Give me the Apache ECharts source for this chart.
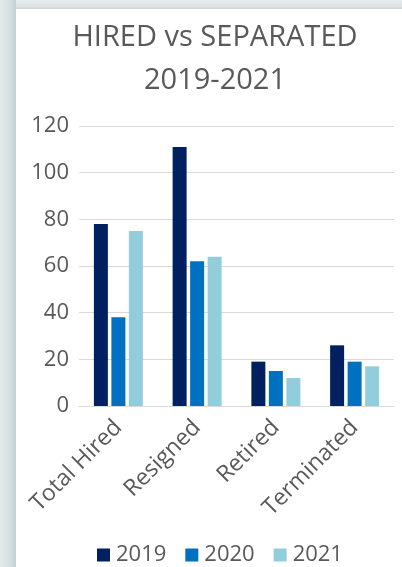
<!DOCTYPE html>
<html><head><meta charset="utf-8">
<script src="https://cdn.jsdelivr.net/npm/echarts@6/dist/echarts.min.js"></script>
<style>
html,body{margin:0;padding:0;width:402px;height:567px;overflow:hidden;}
#bg{position:absolute;left:0;top:0;width:402px;height:567px;background:linear-gradient(to right,#e3eaec 0px,#d6dfe3 10px,#c6d2d8 15px,#c6d2d8 16px);}
#topbar{position:absolute;left:16px;top:0;width:386px;height:9px;background:linear-gradient(to bottom,#e6ecee 0px,#dfe5e7 6px,#c9d2d6 9px);}
#card{position:absolute;left:16px;top:9px;width:386px;height:558px;background:#ffffff;}
#chart{position:absolute;left:0;top:0;width:402px;height:567px;}
</style></head>
<body>
<div id="bg"></div><div id="topbar"></div><div id="card"></div>
<div id="chart"></div>
<script>
const categories = ['Total Hired', 'Resigned', 'Retired', 'Terminated'];
const seriesNames = ['2019', '2020', '2021'];
const values2019 = [78, 111, 19, 26];
const values2020 = [38, 62, 15, 19];
const values2021 = [75, 64, 12, 17];
const yTicks = [0, 20, 40, 60, 80, 100, 120];
const colors = ['#002060', '#0070c0', '#92cddc'];
const font = '"Open Sans", sans-serif';
const txt = '#595959';

const chart = echarts.init(document.getElementById('chart'), null, {renderer: 'canvas'});
const seriesData = [values2019, values2020, values2021];
chart.setOption({
  animation: false,
  backgroundColor: 'transparent',
  color: colors,
  title: {
    text: 'HIRED vs SEPARATED\n2019-2021',
    left: 210, top: 11, textAlign: 'center',
    textStyle: {fontFamily: font, fontSize: 29, fontWeight: 'normal', color: txt, lineHeight: 43}
  },
  legend: {
    left: 92, top: 539,
    itemWidth: 13, itemHeight: 13, itemGap: 19,
    icon: 'rect',
    textStyle: {fontFamily: font, fontSize: 22, color: txt, padding: [0, 0, 0, 1]},
    data: seriesNames
  },
  grid: {left: 79, right: 8, top: 126, height: 280, containLabel: false},
  xAxis: {
    type: 'category', data: categories,
    axisLine: {lineStyle: {color: '#d9d9d9', width: 1}},
    axisTick: {show: false},
    axisLabel: {rotate: 45, margin: 18, fontFamily: font, fontSize: 23, color: txt, interval: 0}
  },
  yAxis: {
    type: 'value', min: yTicks[0], max: yTicks[yTicks.length - 1], interval: 20,
    axisLine: {show: false}, axisTick: {show: false},
    splitLine: {lineStyle: {color: '#d9d9d9', width: 1}},
    axisLabel: {margin: 10, fontFamily: font, fontSize: 22, color: txt}
  },
  series: seriesNames.map((n, i) => ({
    name: n, type: 'bar', data: seriesData[i],
    barWidth: 14, barGap: '25%', barCategoryGap: '38%'
  }))
});
</script>
</body></html>
